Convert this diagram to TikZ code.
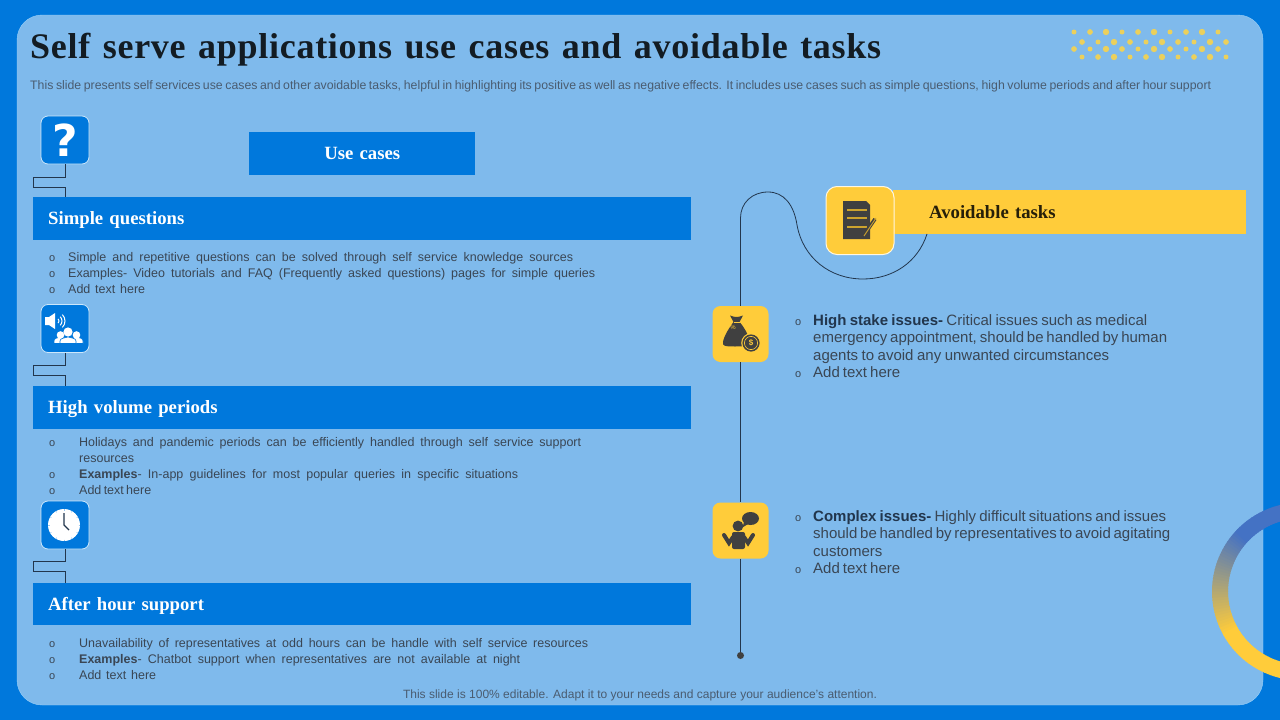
\documentclass[tikz,border=0pt]{standalone}
\usepackage{fontspec}
\setmainfont{Liberation Sans}
\newfontfamily\headfont{Liberation Serif}[BoldFont={Liberation Serif Bold}]
\newfontfamily\titlefont{Liberation Serif Bold}[LetterSpace=2]
\newfontfamily\markfont{DejaVu Sans Bold}
\usetikzlibrary{calc,positioning}
\definecolor{pageblue}{HTML}{0078DC}
\definecolor{panelblue}{HTML}{7FBAEC}
\definecolor{paneledge}{HTML}{9AD0F8}
\definecolor{sunyellow}{HTML}{FFCC3A}
\definecolor{ringblue}{HTML}{4472C4}
\definecolor{dotyellow}{HTML}{EBD05C}
\definecolor{inkdark}{HTML}{404040}
\definecolor{wiredark}{HTML}{22364D}
\definecolor{bodygrey}{HTML}{3A4654}
\definecolor{softgrey}{HTML}{4A5C70}
\newcommand{\fitline}[2]{\makebox[#1pt][s]{#2}}
\newcommand{\bul}[1]{\makebox[#1pt][l]{\fontsize{11}{11}\selectfont o}}
\newcommand{\strongword}[1]{\textbf{\color{wiredark}#1}}
\begin{document}
\begin{tikzpicture}[x=1pt,y=-1pt,
    bar/.style={fill=pageblue, text=white, anchor=north west, minimum height=43pt, inner xsep=15pt, inner ysep=0pt,
            text height=15pt, text depth=3pt, font=\headfont\bfseries\fontsize{18.7}{20}\selectfont},
    iconbox/.style={rectangle, rounded corners=7pt, draw=paneledge!50!white, line width=0.8pt, fill=pageblue,
            minimum size=48pt, inner sep=0pt},
    goldbox/.style={rectangle, rounded corners=8pt, fill=sunyellow, minimum size=56pt, inner sep=0pt},
    block/.style={anchor=base west, inner sep=0pt, text=bodygrey, font=\fontsize{12.5}{16}\selectfont},
    sideblock/.style={anchor=base west, inner sep=0pt, text=bodygrey, font=\fontsize{15}{17.4}\selectfont},
    wire/.style={draw=wiredark, line width=0.8pt}]
    \useasboundingbox (0,0) rectangle (1280,720);
    \fill[pageblue] (0,0) rectangle (1280,720);
    \fill[panelblue, draw=paneledge, rounded corners=25pt] (17,15) rectangle (1263,705);

    \begin{scope}
        \clip (0,0) rectangle (1280,720);
        \foreach \a [evaluate=\a as \p using {max(0,min(100,(222-\a)/72*100))}] in {96,98,...,264}
            \draw[color=sunyellow!\p!ringblue, line width=16pt] (1301,591.5) ++(\a:81) arc (\a:\a+2.6:81);
    \end{scope}

    \foreach \i in {0,...,9} {
        \pgfmathsetmacro{\dotr}{2.5+mod(\i*7,3)*0.35}
        \pgfmathsetmacro{\dots}{2.5+mod(\i*5+1,3)*0.35}
        \fill[dotyellow] (1074+16*\i,32) circle (\dotr);
        \fill[dotyellow] (1082+16*\i,42) circle (\dots);
        \fill[dotyellow] (1074+16*\i,49) circle (\dots);
        \fill[dotyellow] (1082+16*\i,57) circle (\dotr);
    }

    \node[anchor=base west, inner sep=0pt, text=black!85!panelblue, font=\titlefont\fontsize{36}{38}\selectfont] (title) at (30,58)
        {\fitline{851}{Self serve applications use cases and avoidable tasks}};
    \node[anchor=base west, inner sep=0pt, text=softgrey, font=\fontsize{12.3}{14}\selectfont] (lead) at (30,89)
        {\fitline{1181}{This slide presents self services use cases and other avoidable tasks, helpful in highlighting its positive as well as negative effects. It includes use cases such as simple questions, high volume periods and after hour support}};

    \node[bar, minimum width=226pt, text width=196pt, align=center] (usebar) at (249,132) {Use cases};
    \node[bar, minimum width=658pt, text width=628pt, align=left] (simplebar) at (33,197) {Simple questions};
    \node[bar, minimum width=658pt, text width=628pt, align=left] (volumebar) at (33,386) {High volume periods};
    \node[bar, minimum width=658pt, text width=628pt, align=left, minimum height=42pt] (hourbar) at (33,583) {After hour support};

    \node[iconbox, text=white, font=\markfont\fontsize{44}{44}\selectfont] (askbox) at (65,140) {?};
    \node[iconbox] (soundbox) at (65,328.5) {};
    \node[iconbox] (clockbox) at (65,525) {};

    \draw[wire] (askbox.south) -- ++(0,13) -- ++(-32,0) -- ++(0,10) -- ++(32.5,0) -- (65.5,197);
    \draw[wire] (soundbox.south) -- ++(0,12) -- ++(-32,0) -- ++(0,10) -- ++(32.5,0) -- (65.5,386);
    \draw[wire] (clockbox.south) -- ++(0,12) -- ++(-32,0) -- ++(0,10) -- ++(32.5,0) -- (65.5,583);

    \fill[white] (45,317) -- (49,317) -- (55,313) -- (55,329) -- (49,325) -- (45,325) -- cycle;
    \foreach \r in {3,6,9}
        \draw[white, line width=1pt] (56,321) ++(-45:\r) arc (-45:45:\r);
    \foreach \hx/\hy/\hr/\wd in {60.5/335/3.8/6.5,76.5/335/3.8/6.5,68/332/4.6/8} {
        \fill[white, draw=pageblue, line width=0.6pt] (\hx-\wd,343.5) -- (\hx-\wd,341) .. controls (\hx-\wd,338) and (\hx-3,338) .. (\hx,337) .. controls (\hx+3,338) and (\hx+\wd,338) .. (\hx+\wd,341) -- (\hx+\wd,343.5) -- cycle;
        \fill[white] (\hx,\hy) circle (\hr);
    }

    \fill[white] (64,525) circle (16);
    \foreach \t in {0,30,...,330}
        \draw[pageblue!40!white, line width=0.5pt] (64,525) ++(\t:14.5) -- ++(\t:1.5);
    \draw[wiredark, line width=1.3pt] (64,513) -- (64,525) -- (69,530);

    \node[block] (simpletext) at (49,261) {\begin{tabular}[t]{@{}l@{}l@{}}
        \bul{19} & \fitline{505}{Simple and repetitive questions can be solved through self service knowledge sources}\\
        \bul{19} & \fitline{527}{Examples- Video tutorials and FAQ (Frequently asked questions) pages for simple queries}\\
        \bul{19} & \fitline{77}{Add text here}
    \end{tabular}};
    \node[block] (volumetext) at (49,446) {\begin{tabular}[t]{@{}l@{}l@{}}
        \bul{30} & \fitline{502}{Holidays and pandemic periods can be efficiently handled through self service support}\\
         & resources\\
        \bul{30} & \fitline{439}{\textbf{Examples}- In-app guidelines for most popular queries in specific situations}\\
        \bul{30} & \fitline{66}{Add text here}
    \end{tabular}};
    \node[block] (hourtext) at (49,647) {\begin{tabular}[t]{@{}l@{}l@{}}
        \bul{30} & \fitline{509}{Unavailability of representatives at odd hours can be handle with self service resources}\\
        \bul{30} & \fitline{441}{\textbf{Examples}- Chatbot support when representatives are not available at night}\\
        \bul{30} & \fitline{77}{Add text here}
    \end{tabular}};

    \node[fill=sunyellow, anchor=north west, minimum width=353pt, minimum height=44pt, inner xsep=36pt, inner ysep=0pt, text width=281pt, align=left,
        text height=15pt, text depth=3pt, text=black!85!sunyellow, font=\headfont\bfseries\fontsize{18.7}{20}\selectfont] (avoidbar) at (893,190) {Avoidable tasks};
    \node[goldbox, draw=white!85!sunyellow, line width=1pt, minimum size=68pt, rounded corners=11pt] (notebox) at (860,220.5) {};
    \node[goldbox] (bagbox) at (740.5,334) {};
    \node[goldbox] (talkbox) at (740.5,530.5) {};
    \coordinate (arcend) at (927,234);
    \node[circle, fill=inkdark, inner sep=0pt, minimum size=7pt] (linedot) at (740.5,655.5) {};

    \draw[wire] (bagbox.north) -- (740.5,218) .. controls (740.5,203) and (752,192) .. (768,192)
        .. controls (784,192) and (794,205) .. (797,225) .. controls (803,258) and (830,279) .. (863,279)
        .. controls (893,279) and (918,262) .. (arcend);
    \draw[wire] (bagbox) -- (talkbox);
    \draw[wire] (talkbox) -- (linedot);

    \fill[inkdark] (843,201) -- (866,201) -- (870,205) -- (870,239) -- (843,239) -- cycle;
    \foreach \ly in {210,218,227}
        \draw[sunyellow!80!black, line width=1.2pt] (847,\ly) -- (867,\ly);
    \draw[inkdark, line width=3.5pt] (866,232) -- (875,219);
    \draw[sunyellow!80!black, line width=0.9pt] (864,236) -- (876,218);

    \fill[inkdark] (730,315.5) .. controls (735,317.5) and (738,317.5) .. (743,315.5) -- (739.5,322)
        .. controls (744,327) and (749,335) .. (749,341) .. controls (749,346) and (745,346.5) .. (735,346.5)
        .. controls (725,346.5) and (722,346) .. (723,342) .. controls (724,336) and (729,328) .. (733.5,322) -- cycle;
    \draw[sunyellow, line width=0.7pt] (733.5,322) -- (739.5,322);
    \node[text=sunyellow, inner sep=0pt, font=\fontsize{6}{6}\selectfont] (bagmark) at (733,327) {\%};
    \fill[sunyellow] (751,343) circle (9.8);
    \fill[inkdark] (751,343) circle (8.6);
    \draw[sunyellow, line width=0.6pt] (751,343) circle (6.6);
    \node[text=sunyellow, inner sep=0pt, font=\bfseries\fontsize{8}{8}\selectfont] (coinmark) at (751,343) {\$};

    \fill[inkdark] (738,526) circle (5.4);
    \fill[inkdark] (750.5,518.5) ellipse (8.5 and 6.5);
    \fill[inkdark] (744,522) -- (748,524) -- (742.5,527.5) -- cycle;
    \fill[inkdark, rounded corners=2pt] (732,532) -- (745,532) -- (745,549) -- (732,549) -- cycle;
    \draw[inkdark, line width=4pt, line cap=round] (724,535) -- (729,543) -- (733,537);
    \draw[inkdark, line width=4pt, line cap=round] (753,535) -- (748,543) -- (744,537);

    \node[sideblock] (staketext) at (795,325.5) {\begin{tabular}[t]{@{}l@{}l@{}}
        \bul{18} & \fitline{334}{\strongword{High stake issues-} Critical issues such as medical}\\
         & \fitline{354}{emergency appointment, should be handled by human}\\
         & \fitline{296}{agents to avoid any unwanted circumstances}\\
        \bul{18} & \fitline{87}{Add text here}
    \end{tabular}};
    \node[sideblock] (complextext) at (795,521.5) {\begin{tabular}[t]{@{}l@{}l@{}}
        \bul{18} & \fitline{353}{\strongword{Complex issues-} Highly difficult situations and issues}\\
         & \fitline{357}{should be handled by representatives to avoid agitating}\\
         & customers\\
        \bul{18} & \fitline{87}{Add text here}
    \end{tabular}};

    \node[anchor=base, inner sep=0pt, text=softgrey, font=\fontsize{12}{14}\selectfont] (footer) at (640,698.5)
        {\fitline{474}{This slide is 100\% editable. Adapt it to your needs and capture your audience's attention.}};
\end{tikzpicture}
\end{document}
